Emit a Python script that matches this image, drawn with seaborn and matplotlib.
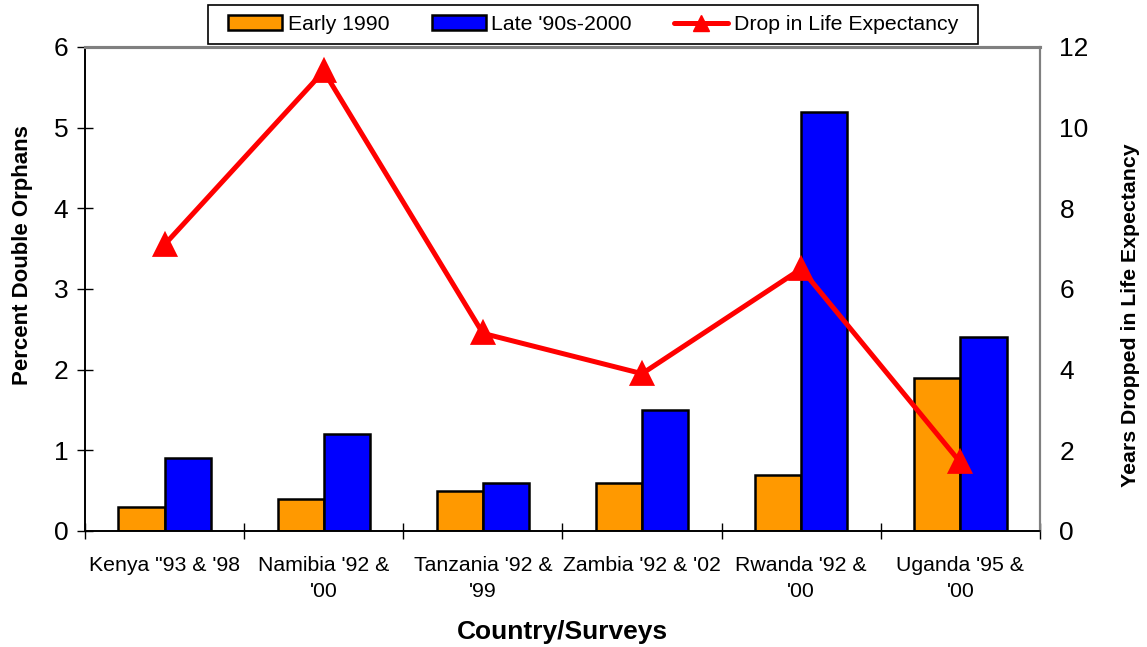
import matplotlib
matplotlib.use("Agg")
import matplotlib.pyplot as plt
from matplotlib.patches import Patch, Rectangle
from matplotlib.lines import Line2D
import numpy as np
import pandas as pd
import seaborn as sns

# Data
countries = ["Kenya \"93 & '98", "Namibia '92 &\n'00", "Tanzania '92 &\n'99",
             "Zambia '92 & '02", "Rwanda '92 &\n'00", "Uganda '95 &\n'00"]
early_1990 = [0.3, 0.4, 0.5, 0.6, 0.7, 1.9]
late_90s_2000 = [0.9, 1.2, 0.6, 1.5, 5.2, 2.4]
life_exp_drop = [7.1, 11.4, 4.9, 3.9, 6.5, 1.7]
series_names = ["Early 1990", "Late '90s-2000"]
line_name = "Drop in Life Expectancy"

bars = pd.DataFrame({
    "Country": countries * 2,
    "Period": [series_names[0]] * len(countries) + [series_names[1]] * len(countries),
    "Percent": early_1990 + late_90s_2000,
})
line = pd.DataFrame({"Country": countries, "Drop": life_exp_drop})

sns.set_theme(style="white")
plt.rcParams["font.family"] = ["Liberation Sans", "DejaVu Sans"]
plt.rcParams["text.color"] = "black"
plt.rcParams["axes.labelcolor"] = "black"
plt.rcParams["xtick.color"] = "black"
plt.rcParams["ytick.color"] = "black"

colors = {"Early 1990": "#FF9900", "Late '90s-2000": "#0000FF"}

fig = plt.figure(figsize=(11.47, 6.47), dpi=100)
ax = fig.add_axes([0.0741, 0.1793, 0.8326, 0.7481])

sns.barplot(data=bars, x="Country", y="Percent", hue="Period", order=countries,
            hue_order=series_names, palette=colors, width=0.58, edgecolor="black",
            linewidth=1.8, saturation=1, ax=ax, legend=False)

ax2 = ax.twinx()
sns.pointplot(data=line, x="Country", y="Drop", order=countries, color="#FF0000",
              markers="^", linestyles="-", markersize=15, linewidth=3.6, ax=ax2)

n = len(countries)
for a in (ax, ax2):
    a.set_xlim(-0.5, n - 0.5)

ax.set_ylim(0, 6)
ax.set_yticks(range(0, 7))
ax2.set_ylim(0, 12)
ax2.set_yticks(range(0, 13, 2))

# Category boundary ticks on the x axis
ax.set_xticks(np.arange(n))
ax.set_xticklabels(countries, fontsize=15.3, linespacing=1.5)
ax.set_xticks(np.arange(-0.5, n, 1), minor=True)
ax.tick_params(axis="x", which="major", length=0, pad=18)
ax.tick_params(axis="x", which="minor", direction="inout", length=12, width=1, color="black", bottom=True)
ax.tick_params(axis="y", direction="inout", length=12, width=1, color="black", labelsize=19, pad=6, left=True)
ax2.tick_params(axis="y", length=0, labelsize=19, pad=14, right=False)

ax.set_xlabel("Country/Surveys", fontsize=19, fontweight="bold", va="center", ha="center")
ax.xaxis.set_label_coords(0.5, -0.209)
ax.set_ylabel("Percent Double Orphans", fontsize=16, fontweight="bold", va="center", ha="center")
ax.yaxis.set_label_coords(-0.065, 0.57)
ax2.set_ylabel("Years Dropped in Life Expectancy", fontsize=15.3, fontweight="bold",
               rotation=90, va="center", ha="center")
ax2.yaxis.set_label_coords(1.095, 0.446)

for a in (ax, ax2):
    a.spines["top"].set_color("#808080")
    a.spines["top"].set_linewidth(2.2)
    a.spines["right"].set_color("#808080")
    a.spines["right"].set_linewidth(1.5)
    a.spines["left"].set_color("black")
    a.spines["bottom"].set_color("black")
    a.spines["left"].set_linewidth(1.2)
    a.spines["bottom"].set_linewidth(1.2)

# Legend box above the plot area
W, H = 1147, 647
box = Rectangle((208 / W, 1 - 44 / H), 770 / W, 39 / H, transform=fig.transFigure,
                facecolor="white", edgecolor="black", linewidth=1.2, zorder=5)
fig.add_artist(box)

handles = [
    Patch(facecolor=colors[series_names[0]], edgecolor="black", linewidth=1.8),
    Patch(facecolor=colors[series_names[1]], edgecolor="black", linewidth=1.8),
    Line2D([0], [0], color="#FF0000", linewidth=3.6, marker="^", markersize=12),
]
leg = fig.legend(handles, series_names + [line_name], loc="center",
                 bbox_to_anchor=(593 / W, 1 - 24.5 / H), ncol=3, fontsize=15.3,
                 frameon=False, columnspacing=2.0, handlelength=2.55,
                 handletextpad=0.25, borderpad=0.3)
leg.set_zorder(6)

fig.savefig("out.png", dpi=100)
